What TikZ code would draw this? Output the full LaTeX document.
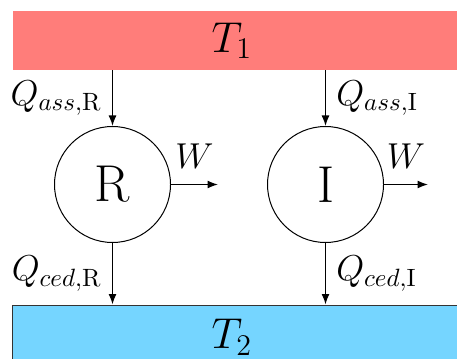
\documentclass[tikz,border=0pt]{standalone}
\usetikzlibrary{arrows.meta}
\definecolor{hotred}{RGB}{255,125,122}
\definecolor{coldblue}{RGB}{117,213,255}
\begin{document}
\begin{tikzpicture}[
    x=0.4pt, y=-0.4pt,
    >={Latex[length=4.2pt,width=3.2pt]},
    source/.style={
        fill=hotred,
        minimum width=187pt,
        minimum height=23.6pt
    },
    sink/.style={
        draw=black!80,
        fill=coldblue,
        minimum width=187pt,
        minimum height=26.4pt
    },
    temp/.style={font=\LARGE, inner sep=1pt},
    engine/.style={
        draw,
        circle,
        minimum size=46.4pt,
        font=\huge
    },
    arr/.style={->, semithick},
    heat/.style={font=\Large, inner sep=2pt}
]
    \useasboundingbox (0,0) rectangle (457,358);
    \clip (0,0) rectangle (457,358);

    \node[source] (hot) at (246.5,40.5) {};
    \node[sink] (cold) at (246.5,338) {};
    \node[temp] (t1) at (232,40.5) {$T_1$};
    \node[temp] (t2) at (232,337) {$T_2$};

    \node[engine] (R) at (112.5,184.5) {R};
    \node[engine] (I) at (325.5,184.5) {I};

    \coordinate (wR) at (218,184.5);
    \coordinate (wI) at (428,184.5);

    \draw[arr] (hot.south -| R.north) -- (R.north)
        node[heat, midway, left, xshift=-2pt] {$Q_{ass,\mathrm{R}}$};
    \draw[arr] (hot.south -| I.north) -- (I.north)
        node[heat, midway, right, xshift=2pt] {$Q_{ass,\mathrm{I}}$};
    \draw[arr] (R.south) -- (R.south |- cold.north)
        node[heat, midway, left, xshift=-2pt] {$Q_{ced,\mathrm{R}}$};
    \draw[arr] (I.south) -- (I.south |- cold.north)
        node[heat, midway, right, xshift=2pt] {$Q_{ced,\mathrm{I}}$};

    \draw[arr] (R.east) -- (wR) node[heat, midway, above, yshift=4pt] {$W$};
    \draw[arr] (I.east) -- (wI) node[heat, midway, above, yshift=4pt] {$W$};
\end{tikzpicture}
\end{document}
